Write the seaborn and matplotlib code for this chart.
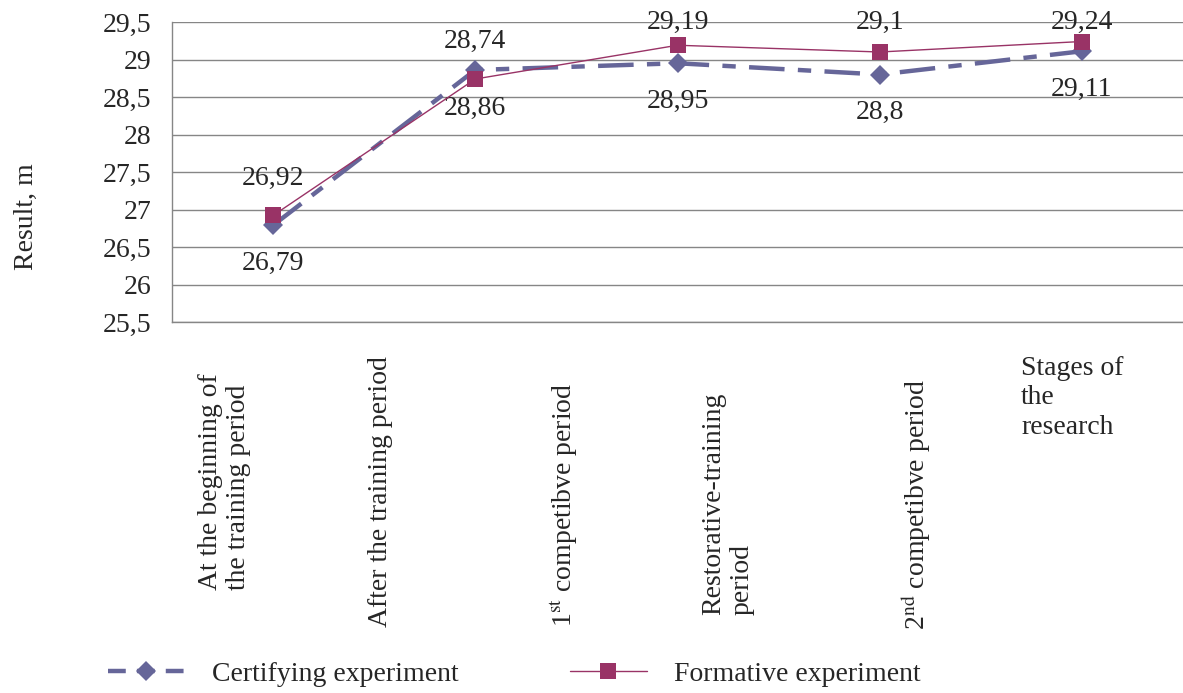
import numpy as np
import pandas as pd
import seaborn as sns
import matplotlib.pyplot as plt
from matplotlib.lines import Line2D

sns.set_style("white")
plt.rcParams['font.family'] = ['Liberation Serif', 'DejaVu Serif']
plt.rcParams['mathtext.fontset'] = 'stix'

stages = [
    "At the beginning of\nthe training period",
    "After the training period",
    r"1$^{\mathrm{st}}$ competibve period",
    "Restorative-training\nperiod",
    r"2$^{\mathrm{nd}}$ competibve period",
]
certifying = [26.79, 28.86, 28.95, 28.80, 29.11]
formative = [26.92, 28.74, 29.19, 29.10, 29.24]
yticks = [25.5, 26, 26.5, 27, 27.5, 28, 28.5, 29, 29.5]

# where Excel put the rotated category labels (data x, bottom y)
label_x = [-0.24, 0.53, 1.44, 2.25, 3.18]
label_bottom = [21.93, 21.43, 21.43, 21.59, 21.39]

c_cert = "#666699"
c_form = "#993366"
grid_c = "#868686"
fs = 20

df = pd.DataFrame({"pos": np.arange(len(stages)),
                   "certifying": certifying,
                   "formative": formative})

fig = plt.figure(figsize=(11.83, 6.93), dpi=100)
ax = fig.add_axes([172 / 1183, 1 - 322 / 693, 1011 / 1183, 300 / 693])

sns.lineplot(data=df, x="pos", y="certifying", ax=ax, color=c_cert,
             linewidth=3.2, linestyle=(0, (8, 3, 3, 3)), marker="D",
             markersize=10, markeredgewidth=0, zorder=3)
sns.lineplot(data=df, x="pos", y="formative", ax=ax, color=c_form,
             linewidth=1.0, marker="s", markersize=11.5,
             markeredgewidth=0, zorder=4)

ax.set_xlim(-0.5, len(stages) - 0.5)
ax.set_ylim(25.5, 29.5)
ax.set_yticks(yticks)
ax.set_yticklabels([f"{v:g}".replace(".", ",") for v in yticks], fontsize=fs)
ax.yaxis.grid(True, color=grid_c, linewidth=1.0)
ax.set_axisbelow(True)

# category boundaries get the tick marks, labels are placed by hand
ax.set_xticks(np.arange(-0.5, len(stages), 1.0))
ax.set_xticklabels([])
ax.tick_params(axis="x", direction="out", length=8, color=grid_c, width=1)
ax.tick_params(axis="y", direction="out", length=9, color=grid_c, width=1,
               pad=6)
for s in ["top", "right"]:
    ax.spines[s].set_visible(False)
for s in ["left", "bottom"]:
    ax.spines[s].set_color(grid_c)
    ax.spines[s].set_linewidth(1.0)

for x, yb, lab in zip(label_x, label_bottom, stages):
    ax.text(x, yb, lab, rotation=90, ha="center", va="bottom", ma="left",
            fontsize=fs, clip_on=False, linespacing=1.15)

ax.text(3.70, 25.05, "Stages of\nthe\nresearch", ha="left", va="top",
        fontsize=fs, linespacing=1.25, clip_on=False)

ax.set_xlabel("")
ax.set_ylabel("Result, m", fontsize=fs)
ax.yaxis.set_label_coords(-133 / 1011, 0.35)

# data labels: formative above, certifying below (clamped at the top)
for i in range(len(stages)):
    ax.text(i, min(formative[i] + 0.5, 29.5), f"{formative[i]:g}".replace(".", ","),
            ha="center", va="center", fontsize=fs, clip_on=False)
    ax.text(i, certifying[i] - 0.51, f"{certifying[i]:g}".replace(".", ","),
            ha="center", va="center", fontsize=fs, clip_on=False)

handles = [
    Line2D([], [], color=c_cert, linewidth=3.2, linestyle=(0, (4, 2.5)),
           marker="D", markersize=10, markeredgewidth=0),
    Line2D([], [], color=c_form, linewidth=1.0, marker="s",
           markersize=11.5, markeredgewidth=0),
]
fig.legend(handles, ["Certifying experiment", "Formative experiment"],
           loc="center left", bbox_to_anchor=(108 / 1183, 1 - 674 / 693),
           ncol=2, frameon=False, fontsize=fs, handlelength=2.77,
           handletextpad=0.97, columnspacing=4.0, borderpad=0,
           borderaxespad=0)

fig.savefig("out.png", dpi=100)
